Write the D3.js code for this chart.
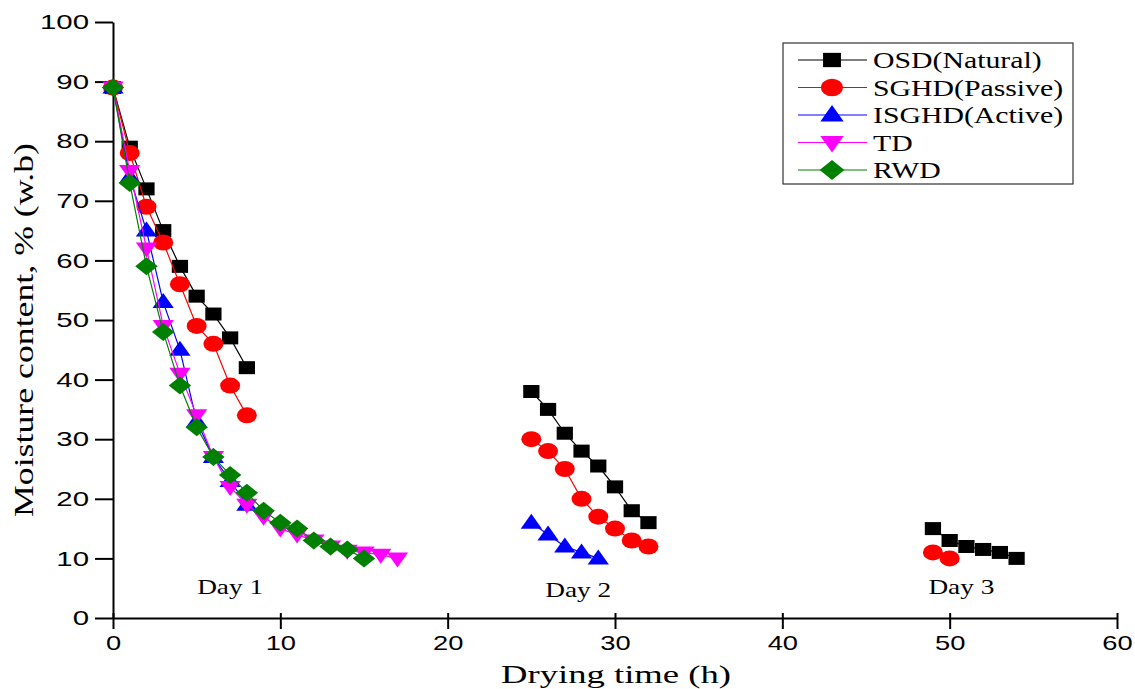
<!DOCTYPE html>
<html>
<head>
<meta charset="utf-8">
<script src="https://cdn.jsdelivr.net/npm/d3@7"></script>
<style>
  body { margin: 0; background: #fff; }
</style>
</head>
<body>
<svg id="drawing_region"></svg>
<script>
// values
const seriesNames = ["OSD(Natural)", "SGHD(Passive)", "ISGHD(Active)", "TD", "RWD"];

const osdTime = [0,1,2,3,4,5,6,7,8, 25,26,27,28,29,30,31,32, 49,50,51,52,53,54];
const osdMc   = [89,79,72,65,59,54,51,47,42, 38,35,31,28,25.5,22,18,16, 15,13,12,11.5,11,10];

const sghdTime = [0,1,2,3,4,5,6,7,8, 25,26,27,28,29,30,31,32, 49,50];
const sghdMc   = [89,78,69,63,56,49,46,39,34, 30,28,25,20,17,15,13,12, 11,10];

const isghdTime = [0,1,2,3,4,5,6,7,8, 25,26,27,28,29];
const isghdMc   = [89,74,65,53,45,33,27,23,19, 16,14,12,11,10];

const tdTime = [0,1,2,3,4,5,6,7,8,9,10,11,12,13,14,15,16,17];
const tdMc   = [89,75,62,49,41,34,27,22,19,17,15,14,13,12,11.3,11,10.6,10];

const rwdTime = [0,1,2,3,4,5,6,7,8,9,10,11,12,13,14,15];
const rwdMc   = [89,73,59,48,39,32,27,24,21,18,16,15,13,12,11.5,10];

const xTicks = [0,10,20,30,40,50,60];
const yTicks = [0,10,20,30,40,50,60,70,80,90,100];

const dayLabels = ["Day 1", "Day 2", "Day 3"];
const dayLabelTime = [7, 27.8, 50.7];
const dayLabelMc = [4, 3.6, 4];

const xTitle = "Drying time (h)";
const yTitle = "Moisture content, % (w.b)";

// drawing
const width = 1135, height = 689;
const svg = d3.select('#drawing_region')
    .attr('width', width)
    .attr('height', height);

const xscale = d3.scaleLinear().domain([0, 60]).range([113, 1117]);
const yscale = d3.scaleLinear().domain([0, 100]).range([618, 22]);

const sans = "Arial, 'Liberation Sans', sans-serif";
const serif = "'Times New Roman', 'Liberation Serif', serif";
const hx = 1.25; // the reference is stretched sideways

function stretch(sel, k) {
    sel.each(function() {
        const w = this.getComputedTextLength();
        d3.select(this).attr('textLength', w * k).attr('lengthAdjust', 'spacingAndGlyphs');
    });
}

const shapes = {
    square:   "M-6.5,-6.5H6.5V6.5H-6.5Z",
    circle:   d3.symbol(d3.symbolCircle, Math.PI * 64)(),
    up:       "M0,-9L8.5,6L-8.5,6Z",
    down:     "M0,9L8.5,-6L-8.5,-6Z",
    diamond:  "M0,-9L9,0L0,9L-9,0Z"
};

const series = [
    { name: seriesNames[0], time: osdTime,   mc: osdMc,   color: '#000000', shape: 'square' },
    { name: seriesNames[1], time: sghdTime,  mc: sghdMc,  color: '#ff0000', shape: 'circle' },
    { name: seriesNames[2], time: isghdTime, mc: isghdMc, color: '#0000ff', shape: 'up' },
    { name: seriesNames[3], time: tdTime,    mc: tdMc,    color: '#ff00ff', shape: 'down' },
    { name: seriesNames[4], time: rwdTime,   mc: rwdMc,   color: '#008000', shape: 'diamond' }
];

// axes
const xaxis = d3.axisBottom(xscale).tickValues(xTicks).tickSize(11).tickSizeOuter(0).tickPadding(6);
const yaxis = d3.axisLeft(yscale).tickValues(yTicks).tickSize(18).tickSizeOuter(0).tickPadding(6);

const xg = svg.append('g').attr('transform', `translate(0, ${yscale(0)})`).call(xaxis);
const yg = svg.append('g').attr('transform', `translate(${xscale(0)}, 0)`).call(yaxis);

[xg, yg].forEach(g => {
    g.select('.domain').attr('stroke', '#000').attr('stroke-width', 2);
    g.selectAll('.tick line').attr('stroke', '#000').attr('stroke-width', 2);
    g.selectAll('.tick text')
        .attr('fill', '#000')
        .attr('font-family', sans)
        .attr('font-size', 21);
});
xg.selectAll('.tick line').attr('y1', -5);
xg.selectAll('.tick text').attr('dy', '0.71em');
stretch(xg.selectAll('.tick text'), 1.3);
stretch(yg.selectAll('.tick text'), 1.4);

// axis titles
svg.append('text')
    .attr('x', 616).attr('y', 683)
    .attr('text-anchor', 'middle')
    .attr('font-family', serif).attr('font-size', 25)
    .attr('textLength', 230).attr('lengthAdjust', 'spacingAndGlyphs')
    .text(xTitle);

svg.append('text')
    .attr('transform', 'translate(33, 330) rotate(-90)')
    .attr('text-anchor', 'middle')
    .attr('font-family', serif).attr('font-size', 27)
    .attr('textLength', 374).attr('lengthAdjust', 'spacingAndGlyphs')
    .text(yTitle);

// series: lines break between days
const line = d3.line()
    .x(d => xscale(d.t))
    .y(d => yscale(d.v));

series.forEach(s => {
    const pts = s.time.map((t, i) => ({ t: t, v: s.mc[i] }));
    const segs = [];
    pts.forEach((p, i) => {
        if (i === 0 || p.t - pts[i - 1].t > 5) segs.push([]);
        segs[segs.length - 1].push(p);
    });
    const g = svg.append('g');
    segs.forEach(seg => {
        g.append('path')
            .attr('d', line(seg))
            .attr('fill', 'none')
            .attr('stroke', s.color)
            .attr('stroke-width', 1.2);
    });
    g.selectAll('.mk').data(pts).enter()
        .append('path')
        .attr('class', 'mk')
        .attr('d', shapes[s.shape])
        .attr('transform', d => `translate(${xscale(d.t)}, ${yscale(d.v)}) scale(${hx}, 1)`)
        .attr('fill', s.color);
});

// day annotations
dayLabels.forEach((lab, i) => {
    const t = svg.append('text')
        .attr('x', xscale(dayLabelTime[i]))
        .attr('y', yscale(dayLabelMc[i]))
        .attr('text-anchor', 'middle')
        .attr('font-family', serif).attr('font-size', 21)
        .text(lab);
    stretch(t, 1.3);
});

// legend
const legend = svg.append('g');
legend.append('rect')
    .attr('x', 783).attr('y', 43)
    .attr('width', 290).attr('height', 141)
    .attr('fill', '#fff')
    .attr('stroke', '#333').attr('stroke-width', 1.2);

series.forEach((s, i) => {
    const y = 60 + i * 27.5;
    legend.append('line')
        .attr('x1', 798).attr('x2', 867)
        .attr('y1', y).attr('y2', y)
        .attr('stroke', s.color).attr('stroke-width', 1.2);
    legend.append('path')
        .attr('d', shapes[s.shape])
        .attr('transform', `translate(832, ${y}) scale(${hx * 1.1}, 1.1)`)
        .attr('fill', s.color);
    const t = legend.append('text')
        .attr('x', 873).attr('y', y + 8)
        .attr('font-family', serif).attr('font-size', 24)
        .attr('fill', '#000')
        .text(s.name);
    stretch(t, 1.24);
});
</script>
</body>
</html>
